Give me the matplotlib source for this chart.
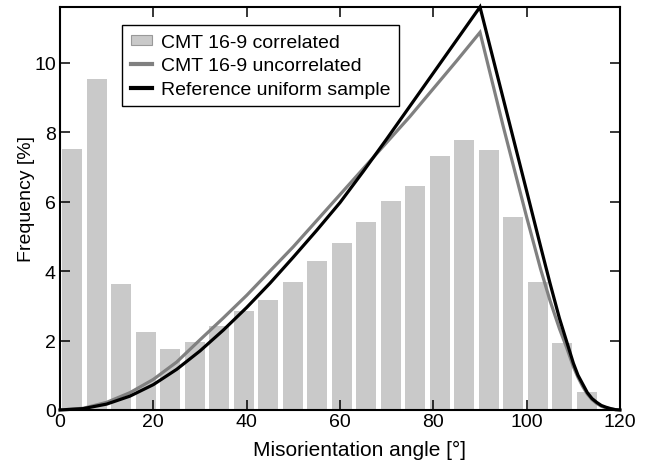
import numpy as np
import matplotlib
matplotlib.use("Agg")
import matplotlib.pyplot as plt
from matplotlib.patches import Patch
from matplotlib.lines import Line2D

plt.rcParams['font.family'] = ['Liberation Sans', 'DejaVu Sans']

# histogram: 22 bins, 5.25 deg wide
bin_width = 5.25
bin_left = np.arange(22) * bin_width
correlated = [7.51, 9.53, 3.63, 2.24, 1.76, 1.97, 2.42, 2.86, 3.17, 3.67, 4.30,
              4.81, 5.42, 6.01, 6.45, 7.32, 7.78, 7.48, 5.55, 3.67, 1.92, 0.51]

# uncorrelated curve (grey)
unc_angle = [0, 5, 10, 15, 20, 25, 30, 35, 40, 45, 50, 55, 60, 65, 70, 75, 80, 85, 90,
             95, 100, 103, 105, 107, 108.5, 110, 111, 112, 113, 114, 115, 116, 117, 118, 119, 120]
unc_freq = [0, 0.05, 0.22, 0.5, 0.88, 1.38, 2.02, 2.65, 3.3, 4.0, 4.7, 5.45, 6.2, 6.95, 7.7,
            8.45, 9.25, 10.05, 10.87,
            8.15, 5.55, 4.05, 3.15, 2.35, 1.82, 1.25, 0.94, 0.68, 0.46, 0.3, 0.19, 0.11, 0.06, 0.03, 0.01, 0]

# reference uniform sample (black)
ref_angle = [0, 5, 10, 15, 20, 25, 30, 35, 40, 45, 50, 55, 60, 65, 70, 75, 80, 85, 90,
             95, 100, 103, 105, 107, 108.5, 110, 111, 112, 113, 114, 115, 116, 117, 118, 119, 120]
ref_freq = [0, 0.04, 0.17, 0.4, 0.73, 1.17, 1.7, 2.3, 2.95, 3.65, 4.4, 5.17, 5.97, 6.87, 7.8,
            8.75, 9.7, 10.65, 11.6,
            8.95, 6.3, 4.7, 3.65, 2.65, 2.0, 1.35, 1.0, 0.75, 0.5, 0.33, 0.22, 0.13, 0.08, 0.04, 0.01, 0]

bar_color = '#c9c9c9'
grey_line = '#808080'

fig = plt.figure(figsize=(6.53, 4.64), dpi=100)
ax = fig.add_axes([60 / 653, 1 - 411 / 464, 560 / 653, 403 / 464])

ax.bar(bin_left + bin_width / 2, correlated, width=4.3, color=bar_color, linewidth=0)
ax.plot(unc_angle, unc_freq, color=grey_line, lw=2.3, solid_joinstyle='miter')
ax.plot(ref_angle, ref_freq, color='black', lw=2.3, solid_joinstyle='miter', clip_on=False)

ax.set_xlim(0, 120)
ax.set_ylim(0, 11.6)
ax.set_xticks(np.arange(0, 121, 20))
ax.set_yticks(np.arange(0, 11, 2))
ax.tick_params(direction='in', length=7, width=1.1, top=True, right=True,
               labelsize=14, pad=3)
ax.tick_params(axis='x', pad=2)
for s in ax.spines.values():
    s.set_linewidth(1.5)

ax.set_xlabel('Misorientation angle [°]', fontsize=15)
ax.set_ylabel('Frequency [%]', fontsize=14)
ax.xaxis.set_label_coords(0.535, -0.075)
ax.yaxis.set_label_coords(-0.045, 0.526)

handles = [Patch(facecolor=bar_color, edgecolor='#999999', linewidth=0.8),
           Line2D([], [], color=grey_line, lw=3),
           Line2D([], [], color='black', lw=3)]
labels = ['CMT 16-9 correlated', 'CMT 16-9 uncorrelated', 'Reference uniform sample']
leg = ax.legend(handles, labels, loc='upper left', bbox_to_anchor=(0.1107, 0.955),
                borderaxespad=0, fontsize=14, frameon=True, fancybox=False,
                edgecolor='black', framealpha=1, handlelength=1.1, handleheight=0.4,
                handletextpad=0.45, labelspacing=0.33, borderpad=0.45)
leg.get_frame().set_linewidth(1.0)

fig.savefig('out.png', dpi=100)
